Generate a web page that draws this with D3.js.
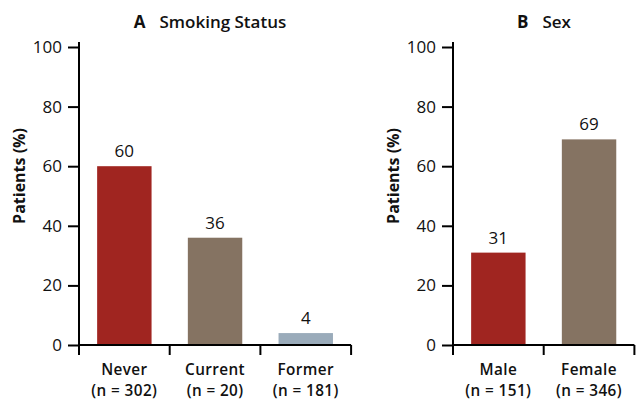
<!DOCTYPE html>
<html>
<head>
<meta charset="utf-8">
<script src="https://cdn.jsdelivr.net/npm/d3@7"></script>
<style>
  html, body { margin: 0; padding: 0; background: #fff; }
  svg { display: block; font-family: "Open Sans", "Noto Sans", sans-serif; }
</style>
</head>
<body>
<svg id="chart" width="642" height="400"></svg>
<script>
// Panel A: smoking status
const smokingCategories = ["Never", "Current", "Former"];
const smokingCounts = ["n = 302", "n = 20", "n = 181"];
const smokingValues = [60, 36, 4];

// Panel B: sex
const sexCategories = ["Male", "Female"];
const sexCounts = ["n = 151", "n = 346"];
const sexValues = [31, 69];

const yTicks = [0, 20, 40, 60, 80, 100];
const barColors = ["#a02520", "#857362", "#9aabba"];

const svg = d3.select("#chart");

function drawPanel(opts) {
  const g = svg.append("g");
  const y = d3.scaleLinear().domain([0, 100]).range([345, 47]);
  const x = d3.scaleBand()
    .domain(opts.categories)
    .range([opts.x0, opts.x0 + 90.7 * opts.categories.length])
    .paddingInner(0.4)
    .paddingOuter(0.2);

  // bars
  g.selectAll("rect.bar")
    .data(opts.values)
    .join("rect")
    .attr("class", "bar")
    .attr("x", (d, i) => x(opts.categories[i]))
    .attr("width", x.bandwidth())
    .attr("y", d => y(d))
    .attr("height", d => y(0) - y(d))
    .attr("fill", (d, i) => barColors[i]);

  // value labels
  g.selectAll("text.val")
    .data(opts.values)
    .join("text")
    .attr("class", "val")
    .attr("x", (d, i) => x(opts.categories[i]) + x.bandwidth() / 2)
    .attr("y", d => y(d) - 9)
    .attr("text-anchor", "middle")
    .attr("font-size", 17)
    .attr("fill", "#111")
    .text(d => d);

  // y axis
  const yAxis = d3.axisLeft(y).tickValues(yTicks).tickSize(11).tickPadding(6);
  const ya = g.append("g").attr("transform", `translate(${opts.x0},0)`).call(yAxis);
  ya.select(".domain").attr("stroke", "#000").attr("stroke-width", 2)
    .attr("d", `M0,${y(100) - 5}V${y(0)}`);
  ya.selectAll(".tick line").attr("stroke", "#000").attr("stroke-width", 2);
  ya.selectAll(".tick text").attr("font-size", 17).attr("fill", "#111")
    .attr("font-family", "'Open Sans', sans-serif");

  // x axis: baseline with tick marks at the band boundaries
  const xEnd = opts.x0 + 90.7 * opts.categories.length;
  g.append("line")
    .attr("x1", opts.x0).attr("x2", xEnd)
    .attr("y1", y(0)).attr("y2", y(0))
    .attr("stroke", "#000").attr("stroke-width", 2);
  const bounds = d3.range(opts.categories.length + 1).map(i => opts.x0 + 90.7 * i);
  g.selectAll("line.xt")
    .data(bounds)
    .join("line")
    .attr("class", "xt")
    .attr("x1", d => d).attr("x2", d => d)
    .attr("y1", y(0)).attr("y2", y(0) + 10)
    .attr("stroke", "#000").attr("stroke-width", 2);

  // category labels, two separate lines
  const cx = d => x(d) + x.bandwidth() / 2;
  const catStyle = sel => sel
    .attr("text-anchor", "middle")
    .attr("font-size", 15.3)
    .attr("font-weight", 600)
    .attr("letter-spacing", 0.4)
    .attr("fill", "#111");
  g.selectAll("text.cat")
    .data(opts.categories)
    .join("text")
    .attr("class", "cat")
    .call(catStyle)
    .attr("x", cx)
    .attr("y", 375)
    .text(d => d);
  g.selectAll("text.cnt")
    .data(opts.categories)
    .join("text")
    .attr("class", "cnt")
    .call(catStyle)
    .attr("x", cx)
    .attr("y", 396)
    .text((d, i) => `(${opts.counts[i]})`);

  // y axis title
  g.append("text")
    .attr("transform", `translate(${opts.x0 - 54},176) rotate(-90)`)
    .attr("text-anchor", "middle")
    .attr("font-size", 16)
    .attr("font-weight", "bold")
    .attr("fill", "#111")
    .text("Patients (%)");

  // panel title
  const t = g.append("text")
    .attr("x", opts.titleX)
    .attr("y", 28)
    .attr("text-anchor", "middle")
    .attr("font-size", 17)
    .attr("fill", "#111");
  t.append("tspan").attr("font-weight", "bold").text(opts.letter);
  t.append("tspan").attr("dx", 14).attr("font-weight", 600).text(opts.title);
}

drawPanel({
  categories: smokingCategories, counts: smokingCounts, values: smokingValues,
  x0: 79, letter: "A", title: "Smoking Status", titleX: 210
});
drawPanel({
  categories: sexCategories, counts: sexCounts, values: sexValues,
  x0: 453, letter: "B", title: "Sex", titleX: 544
});
</script>
</body>
</html>
